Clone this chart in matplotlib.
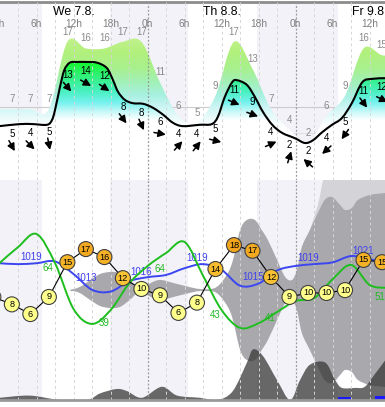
import numpy as np
import matplotlib
matplotlib.use('Agg')
import matplotlib.pyplot as plt
from matplotlib.path import Path
from matplotlib.patches import PathPatch
from matplotlib.colors import LinearSegmentedColormap
from matplotlib.transforms import ScaledTranslation

plt.rcParams['font.family'] = ['Liberation Sans', 'DejaVu Sans']

# time in hours from We 7.8. 0h
steps = [2, 5, 8, 11, 14, 17, 20, 23, 26, 29, 32, 35, 38, 41, 44, 47, 50, 53, 56, 59, 62]
days = ['We 7.8.', 'Th 8.8.', 'Fr 9.8.']
day_noon = [12, 36, 60]
sunrise = [6.9, 30.5, 54.9]
sunset = [17.9, 41.7]

# wind (top panel)
wind_t = [0.0, 3.3, 5.4, 7.7, 8.5, 9.0, 9.8, 10.5, 11.4, 12.6, 14.2, 15.8, 17.4, 18.4, 19.2,
          20.3, 21.6, 23.3, 24.9, 26.5, 28.1, 29.7, 32.5, 34.4, 35.4, 36.5, 37.7, 38.5, 40.1,
          41.4, 42.7, 44.2, 45.8, 47.9, 49.5, 50.8, 52.3, 53.9, 55.5, 57.1, 58.8, 60.4, 62.5]
wind_v = [4.5, 4.8, 4.8, 4.7, 5.4, 6.9, 10.3, 12.8, 13.9, 14.0, 14.0, 13.9, 13.1, 11.3, 9.6,
          8.4, 7.9, 7.8, 7.2, 6.2, 5.0, 4.5, 4.7, 4.8, 5.9, 8.8, 11.0, 11.3, 10.6,
          8.8, 6.6, 4.7, 3.5, 2.7, 2.0, 2.4, 3.6, 4.7, 5.7, 7.9, 11.0, 11.5, 11.6]
wind_lbl = [5, 4, 5, 13, 14, 12, 8, 8, 6, 4, 4, 5, 11, 9, 4, 2, 2, 4, 5, 11, 12]
wind_dir = [331, 315, 349, 319, 299, 304, 323, 336, 280, 222, 218, 284, 293, 290, 246,
            197, 131, 48, 35, 323, 296]
gust = [7, 7, 7, 17, 16, 16, 17, 17, 11, 6, 5, 9, 17, 13, 7, 4, 2, 6, 9, 16, 15]
gust_before, gust_after = 7, 15

# temperature (lower panel)
temp_t = [-1] + steps
temp = [8.9, 7.6, 5.9, 8.9, 15.0, 17.3, 15.9, 12.2, 10.3, 9.2, 6.1, 7.9, 13.8, 18.0, 17.0,
        12.4, 8.9, 9.6, 9.6, 10.1, 15.4, 15.0]

# pressure and humidity, 3-hourly
ph_t = [0, 3, 6, 9, 12, 15, 18, 21, 24, 27, 30, 33, 36, 39, 42, 45, 48, 51, 54, 57, 60, 63]
pres = [1019.4, 1019.2, 1019.4, 1019.8, 1017.0, 1013.5, 1013.1, 1015.4, 1016.3, 1016.8, 1018.3,
        1019.2, 1017.9, 1014.4, 1014.9, 1017.8, 1018.8, 1019.2, 1019.6, 1021.0, 1020.3, 1019.4]
hum = [56.0, 60.4, 64.0, 56.0, 43.4, 39.3, 43.1, 50.4, 55.2, 58.8, 61.8, 52.5, 43.1, 38.2,
       39.5, 42.6, 45.6, 46.4, 51.6, 55.5, 50.0, 49.2]
pres_lbl = ['1019', '1013', '1016', '1019', '1015', '1019', '1021']
pres_lbl_t = [5.1, 14.0, 22.9, 32.0, 41.1, 50.0, 58.9]
hum_lbl = ['64', '39', '64', '43', '41', '51']
hum_lbl_t = [7.9, 16.9, 26.0, 34.9, 43.8, 61.7]
hum_lbl_v = [54.7, 39.5, 54.4, 41.7, 40.9, 46.7]

# precipitation spread (mm, symmetric) and upper outer spread
spread_t = [11.4, 13.0, 14.7, 16.3, 17.9, 19.5, 21.1, 22.4, 23.6, 25.2, 26.3, 27.6, 30.1, 32.5,
            34.9, 36.5, 37.7, 39.0, 40.1, 41.4, 42.5, 43.5, 45.0, 46.3, 47.4, 48.2, 49.0, 50.3,
            51.6, 52.7, 53.9, 55.2, 56.0, 57.1, 58.1, 60.0, 62.5]
spread = [0.0, 0.3, 1.0, 1.6, 1.8, 1.7, 1.0, 0.3, 0.4, 0.9, 1.0, 0.8, 0.4, 0.1,
          0.2, 1.2, 2.7, 6.0, 7.0, 7.0, 6.0, 5.0, 3.0, 1.3, 1.0, 2.0, 4.3, 6.0,
          7.7, 9.0, 9.3, 8.5, 8.0, 8.2, 9.0, 9.5, 9.7]
outer_t = [50.3, 51.6, 52.7, 54.0, 62.5]
outer = [6.0, 8.5, 11.5, 12.0, 12.0]

# low cloud (%)
cloud_t = [0.0, 4.9, 9.8, 14.2, 16.3, 19.0, 20.7, 23.1, 26.3, 28.8, 32.5, 35.3, 37.8, 40.1,
           41.1, 42.7, 45.0, 47.1, 48.7, 50.3, 52.8, 54.4, 55.5, 57.6, 59.2, 60.9, 62.5]
cloud = [1, 2, 0, 0, 3, 5, 4, 1, 6, 2, 1, 0, 4, 17, 23, 20, 9, 0, 9, 16, 17, 9, 5.5, 5.5, 6, 12, 18]

precip_t = [55.9, 61.9]
precip = [0.35, 0.4]

X0, X1 = 0.08, 62.48
NIGHT = '#f2f2f8'

fig = plt.figure(figsize=(3.85, 4.07), dpi=100)


def shift(ax, dx, dy):
    return ax.transData + ScaledTranslation(dx / 100, dy / 100, fig.dpi_scale_trans)


def cr_path(x, y):
    p = np.column_stack([x, y]).astype(float)
    n = len(p)
    verts, codes = [p[0]], [Path.MOVETO]
    for i in range(n - 1):
        p0, p1, p2, p3 = p[max(i - 1, 0)], p[i], p[i + 1], p[min(i + 2, n - 1)]
        verts += [p1 + (p2 - p0) / 6, p2 - (p3 - p1) / 6, p2]
        codes += [Path.CURVE4] * 3
    return verts, codes


def area(x, y, base):
    v, c = cr_path(x, y)
    v += [(x[-1], base), (x[0], base), (x[0], base)]
    c += [Path.LINETO, Path.LINETO, Path.CLOSEPOLY]
    return Path(v, c)


def band(x, lo, hi):
    v1, c1 = cr_path(x, hi)
    v2, c2 = cr_path(x[::-1], lo[::-1])
    c2[0] = Path.LINETO
    return Path(v1 + v2 + [v1[0]], c1 + c2 + [Path.CLOSEPOLY])


def curve(ax, x, y, **kw):
    v, c = cr_path(x, y)
    ax.add_patch(PathPatch(Path(v, c), facecolor='none', capstyle='round', **kw))


def gradient_fill(ax, path, stops, zorder):
    y0, y1 = ax.get_ylim()
    s0, s1 = stops[0][0], stops[-1][0]
    cmap = LinearSegmentedColormap.from_list('g', [((v - s0) / (s1 - s0), c) for v, c in stops])
    lev = np.linspace(y0, y1, 400)
    rgba = cmap(np.clip((lev - s0) / (s1 - s0), 0, 1))[:, None, :].repeat(2, axis=1)
    clip = PathPatch(path, facecolor='none', edgecolor='none', transform=ax.transData)
    ax.add_patch(clip)
    im = ax.imshow(rgba, extent=[X0, X1, y0, y1], origin='lower', aspect='auto',
                   zorder=zorder, interpolation='bilinear')
    im.set_clip_path(clip)
    ax.set_xlim(X0, X1)
    ax.set_ylim(y0, y1)


def nights(ax):
    edges = [X0 - 1] + [v for pair in zip(sunrise, sunset + [None]) for v in pair if v is not None]
    for a, b in zip(edges[0::2], edges[1::2]):
        ax.axvspan(a, b, color=NIGHT, lw=0, zorder=0)


def vgrid(ax, z):
    for h in range(3, 63, 3):
        if h % 24 == 0:
            ax.axvline(h, color='#9a9a9a', lw=0.9, ls=(0, (1.5, 1.5)), zorder=z)
        else:
            ax.axvline(h, color='#d6d6d6', lw=0.7, ls=(0, (3, 3)), zorder=z)


# ---------------- top panel: wind ----------------
ax = fig.add_axes([0, 1 - 180 / 407, 1, 178.5 / 407])
ax.set_xlim(X0, X1)
ax.set_ylim(-3.48, 22.96)
ax.set_xticks([])
ax.set_yticks([])
for name, s in ax.spines.items():
    s.set_visible(name == 'top')
ax.spines['top'].set_color('#8c8c8c')
ax.spines['top'].set_linewidth(2)
nights(ax)
ax.axhline(7.33, color='#cccccc', lw=0.8, zorder=1)
ax.axhline(3.48, color='#e2e2e2', lw=0.8, zorder=1)

gust_t = [-1] + steps + [65]
gust_v = [gust_before] + gust + [gust_after]
gust_stops = [(4.5, '#ffffff'), (6, '#e4fafa'), (7.5, '#c8f5f3'), (9, '#a8f1e2'),
              (11, '#a2f0b8'), (13, '#a8f08e'), (15.5, '#b2f07c'), (18, '#c6f292')]
wind_stops = [(5.3, '#ffffff'), (6.5, '#cdf9f9'), (8, '#74f2ee'), (9.5, '#4cf0c4'),
              (11, '#3af096'), (12.5, '#2af264'), (14, '#12fa2a')]
gradient_fill(ax, area(gust_t, gust_v, -5), gust_stops, 2)
gradient_fill(ax, area(wind_t, wind_v, -5), wind_stops, 3)
vgrid(ax, 4)
curve(ax, wind_t, wind_v, edgecolor='black', lw=1.5, zorder=5)

for t, s, g, d in zip(steps, wind_lbl, gust, wind_dir):
    vc = np.interp(t, wind_t, wind_v)
    ax.text(t, vc, str(s), transform=shift(ax, 0, -9), ha='center', va='center',
            fontsize=7, color='black', zorder=6)
    ax.text(t, g, str(g), transform=shift(ax, 0, 10), ha='center', va='center',
            fontsize=7, color='#8a8a8a', zorder=6)
    th = np.radians(270 - d)
    dx, dy = 6 * np.cos(th), 6 * np.sin(th)
    ax.annotate('', xy=(t, vc), xycoords=shift(ax, dx, -21 + dy),
                xytext=(t, vc), textcoords=shift(ax, -dx, -21 - dy),
                arrowprops=dict(arrowstyle='-|>,head_length=0.55,head_width=0.28',
                                color='black', lw=1.1, shrinkA=0, shrinkB=0,
                                mutation_scale=8), zorder=6)

xt = ax.get_xaxis_transform()
for h in range(0, 63, 6):
    ax.text(h, 0.874, f'{h % 24}h', transform=xt, ha='center', va='center',
            fontsize=7.3, color='#808080', clip_on=True, zorder=6)
for t, s in zip(day_noon, days):
    ax.text(t, 0.941, s, transform=xt, ha='center', va='center', fontsize=8.8,
            color='black', zorder=6)

# ---------------- lower panel ----------------
rect = [0, 7 / 407, 1, 220 / 407]
ax_low = fig.add_axes(rect)
ax_cld, ax_pr, ax_p, ax_h, ax_T = [fig.add_axes(rect) for _ in range(5)]
for a in [ax_low, ax_cld, ax_pr, ax_p, ax_h, ax_T]:
    a.set_xlim(X0, X1)
    a.set_xticks([])
    a.set_yticks([])
    for s in a.spines.values():
        s.set_visible(False)
for a in [ax_cld, ax_pr, ax_p, ax_h, ax_T]:
    a.patch.set_visible(False)

ax_low.set_ylim(-11, 11)
ax_cld.set_ylim(0, 100)
ax_pr.set_ylim(0, 22)
ax_p.set_ylim(989.0, 1037.9)
ax_h.set_ylim(18.4, 78.84)
ax_T.set_ylim(-9.18, 29.42)

nights(ax_low)
ot = np.array(outer_t)
ax_low.add_patch(PathPatch(band(ot, np.zeros_like(ot), np.array(outer)),
                           facecolor='#d4d4d8', edgecolor='none', zorder=1))
ax_low.hlines(0, spread_t[0], spread_t[-1], color='#a0a0a0', lw=0.8, zorder=1.5)
sp = np.array(spread)
ax_low.add_patch(PathPatch(band(np.array(spread_t), -sp, sp),
                           facecolor='#a9a9ad', edgecolor='none', zorder=2))

ax_cld.add_patch(PathPatch(area(cloud_t, cloud, -5), facecolor='#383838', alpha=0.75,
                           edgecolor='none', zorder=2))
vgrid(ax_cld, 4)
ax_pr.bar(precip_t, precip, width=2.1, color='#1a1aff', zorder=3)

curve(ax_p, ph_t, pres, edgecolor='#3c46f0', lw=1.4, zorder=3)
for s, t in zip(pres_lbl, pres_lbl_t):
    ax_p.text(t, np.interp(t, ph_t, pres), s, transform=shift(ax_p, 0, 7), ha='center',
              va='center', fontsize=7, color='#4040f0', zorder=6)

curve(ax_h, ph_t, hum, edgecolor='#1ebe1e', lw=1.4, zorder=3)
for s, t, v in zip(hum_lbl, hum_lbl_t, hum_lbl_v):
    ax_h.text(t, v, s, ha='center', va='center', fontsize=7, color='#22b822', zorder=6)

warm = LinearSegmentedColormap.from_list('warm', ['#fbc93a', '#f2a51c'])
cols = ['#ffff8c' if round(v) <= 10 else warm(min((v - 11) / 7, 1)) for v in temp]
ax_T.plot(temp_t, temp, color='black', lw=0.8, zorder=3)
ax_T.scatter(temp_t, temp, s=117, c=cols, edgecolors='#404040', linewidths=0.8, zorder=4)
for t, v in zip(temp_t, temp):
    ax_T.text(t, v, f'{round(v)}', ha='center', va='center', fontsize=6.6, color='black',
              zorder=5, clip_on=True)
ax_T.spines['bottom'].set_visible(True)
ax_T.spines['bottom'].set_color('#999999')
ax_T.spines['bottom'].set_linewidth(2)

fig.savefig('out.png', dpi=100, facecolor='white')
